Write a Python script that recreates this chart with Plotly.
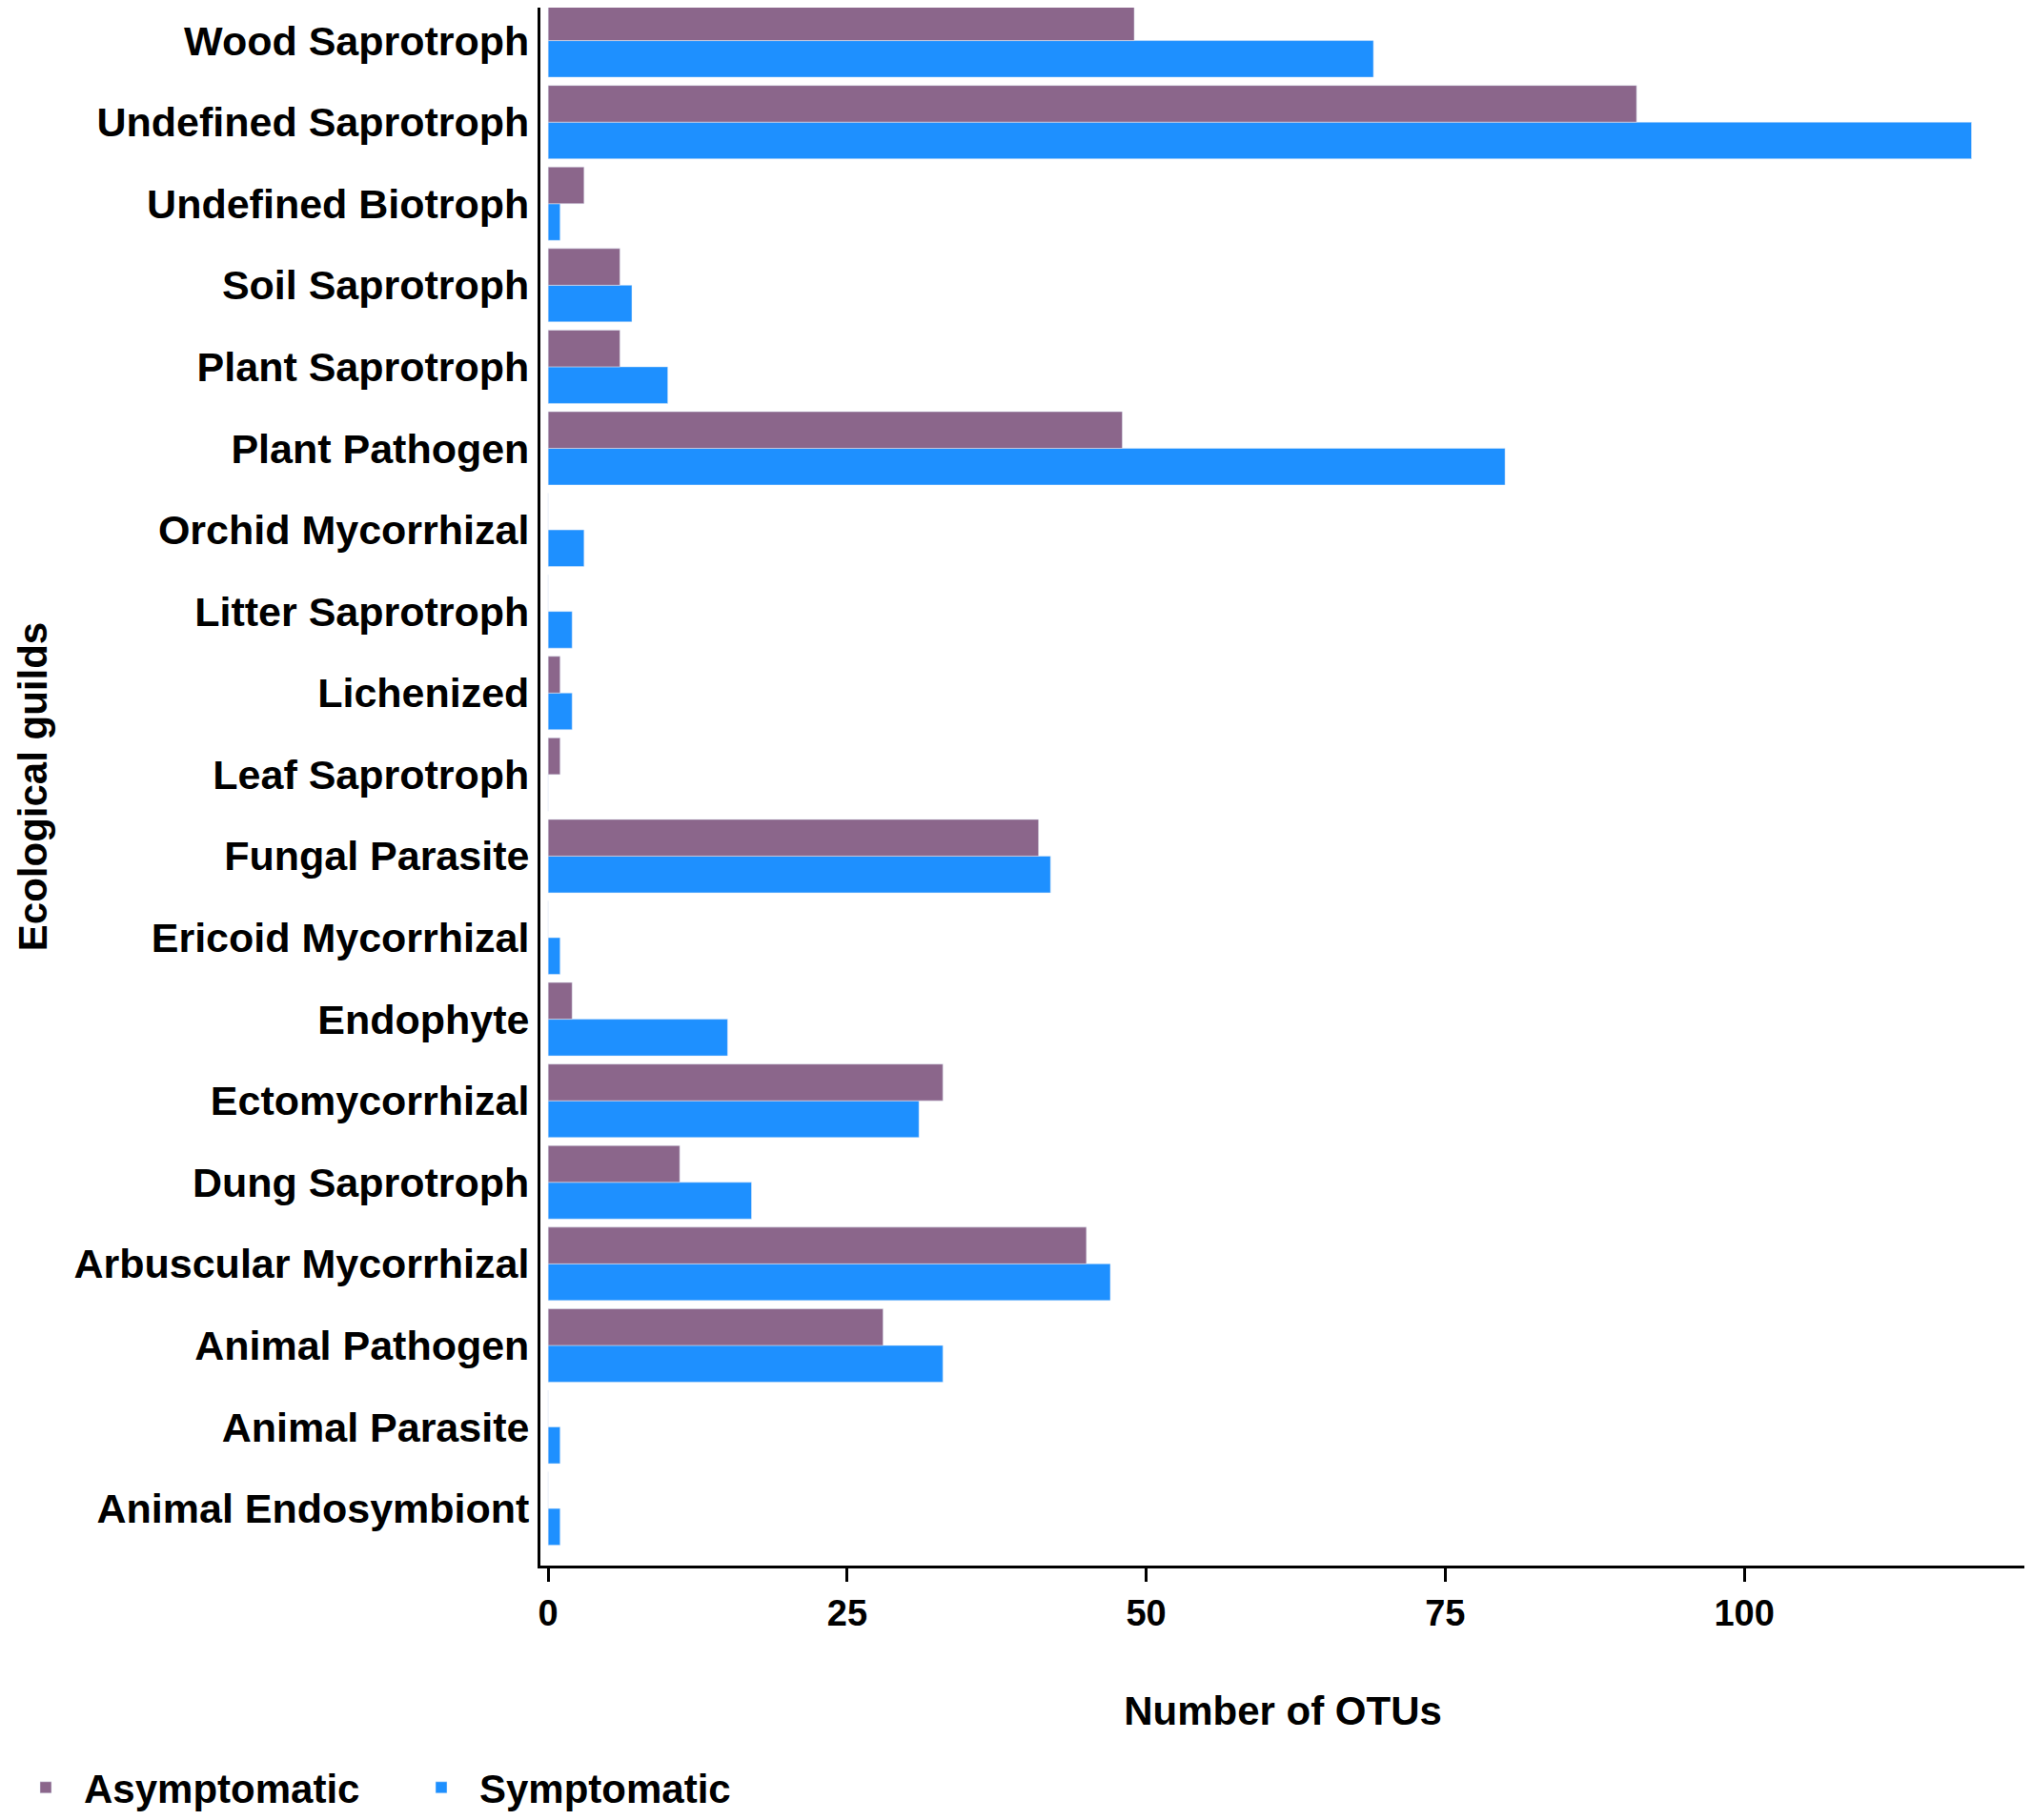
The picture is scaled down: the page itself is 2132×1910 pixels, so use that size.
import plotly.graph_objects as go

guilds = ['Wood Saprotroph', 'Undefined Saprotroph', 'Undefined Biotroph', 'Soil Saprotroph',
          'Plant Saprotroph', 'Plant Pathogen', 'Orchid Mycorrhizal', 'Litter Saprotroph',
          'Lichenized', 'Leaf Saprotroph', 'Fungal Parasite', 'Ericoid Mycorrhizal',
          'Endophyte', 'Ectomycorrhizal', 'Dung Saprotroph', 'Arbuscular Mycorrhizal',
          'Animal Pathogen', 'Animal Parasite', 'Animal Endosymbiont']
asymptomatic = [49, 91, 3, 6, 6, 48, 0, 0, 1, 1, 41, 0, 2, 33, 11, 45, 28, 0, 0]
symptomatic = [69, 119, 1, 7, 10, 80, 3, 2, 2, 0, 42, 1, 15, 31, 17, 47, 33, 1, 1]
x_ticks = [0, 25, 50, 75, 100]

font_name = 'Liberation Sans, Arial, sans-serif'

fig = go.Figure()
# symptomatic first so it sits below asymptomatic inside each group
fig.add_trace(go.Bar(y=guilds, x=symptomatic, name='Symptomatic', orientation='h',
                     marker_color='#1E90FF', legendrank=2))
fig.add_trace(go.Bar(y=guilds, x=asymptomatic, name='Asymptomatic', orientation='h',
                     marker_color='#8B668B', legendrank=1))

# page body adds an 8px margin, so the figure is 8px smaller than the window
fig.update_layout(
    width=2124, height=1902,
    margin=dict(l=559, r=7, t=0, b=267),
    barmode='group', bargap=0.1, bargroupgap=0,
    plot_bgcolor='white', paper_bgcolor='white',
    font=dict(family=font_name, size=42, color='black', weight='bold'),
    legend=dict(orientation='h', xref='container', yref='container', x=0, y=0,
                xanchor='left', yanchor='bottom', font=dict(size=42, weight='bold'),
                traceorder='normal', itemwidth=70, entrywidth=330),
)
fig.update_xaxes(
    range=[-0.65, 123.5], tickvals=x_ticks, ticks='outside', ticklen=14, tickwidth=2.5,
    tickcolor='black', showline=True, linewidth=3, linecolor='black',
    showgrid=False, zeroline=False, automargin=False,
    tickfont=dict(size=38, weight='bold'),
    title=dict(text='Number of OTUs', standoff=69, font=dict(size=42, weight='bold')),
)
fig.update_yaxes(
    categoryorder='array', categoryarray=guilds[::-1], range=[-0.7, 18.404],
    showline=True, linewidth=3, linecolor='black', ticks='', showgrid=False,
    automargin=False,
    tickfont=dict(size=43, weight='bold'),
    title=dict(text='Ecological guilds', standoff=15, font=dict(size=42, weight='bold')),
)

fig.write_html('out.html')
